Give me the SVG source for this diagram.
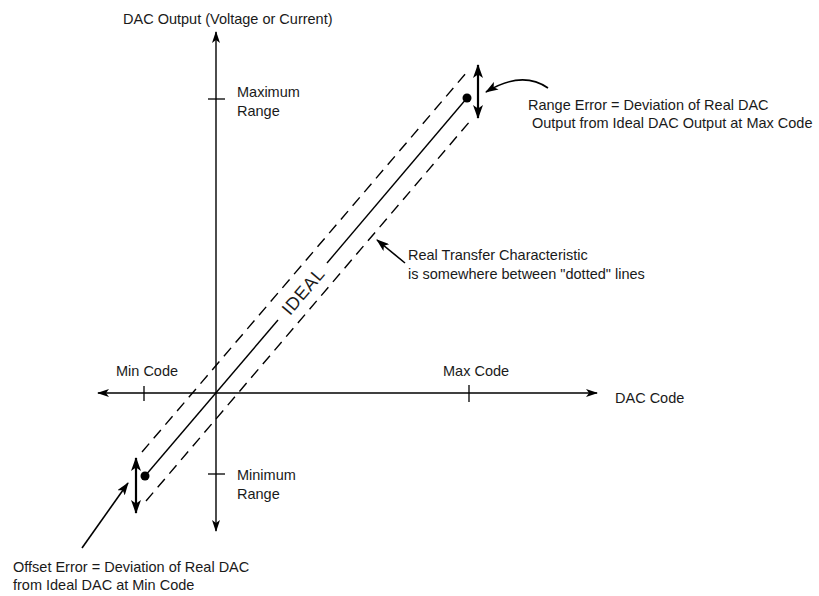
<svg xmlns="http://www.w3.org/2000/svg" width="819" height="596" viewBox="0 0 819 596">
  <style>
    text { font-family: "Liberation Sans", Arial, sans-serif; font-size: 14.5px; fill: #1a1a1a; }
    .ax { stroke: #000; stroke-width: 1.4; fill: none; }
    .tick { stroke: #000; stroke-width: 1.3; }
    .ideal { stroke: #000; stroke-width: 1.4; fill: none; }
    .dash { stroke: #000; stroke-width: 1.4; fill: none; stroke-dasharray: 11 7; }
    .dbl { stroke: #000; stroke-width: 2.2; fill: none; }
    .ptr { stroke: #000; stroke-width: 1.6; fill: none; }
  </style>
  <defs>
    <marker id="ah" viewBox="0 0 12 8" markerWidth="12" markerHeight="8" refX="11" refY="4" orient="auto-start-reverse" markerUnits="userSpaceOnUse">
      <path d="M0,0 L12,4 L0,8 L3,4 z" fill="#000"/>
    </marker>
    <marker id="ahb" viewBox="0 0 14 10" markerWidth="14" markerHeight="10" refX="13" refY="5" orient="auto-start-reverse" markerUnits="userSpaceOnUse">
      <path d="M0,0 L14,5 L0,10 L3.5,5 z" fill="#000"/>
    </marker>
    <marker id="ahp" viewBox="0 0 13 9" markerWidth="13" markerHeight="9" refX="12" refY="4.5" orient="auto" markerUnits="userSpaceOnUse">
      <path d="M0,0 L13,4.5 L0,9 L3,4.5 z" fill="#000"/>
    </marker>
  </defs>

  <g id="axes">
    <line class="ax" x1="216" y1="531" x2="216" y2="32" marker-start="url(#ah)" marker-end="url(#ah)"/>
    <line class="ax" x1="98" y1="393" x2="597" y2="393" marker-start="url(#ah)" marker-end="url(#ah)"/>
    <line class="tick" x1="208" y1="99" x2="225" y2="99"/>
    <line class="tick" x1="208" y1="474" x2="225" y2="474"/>
    <line class="tick" x1="144" y1="386" x2="144" y2="401"/>
    <line class="tick" x1="469" y1="385" x2="469" y2="402"/>
  </g>

  <g id="transfer-lines">
    <line class="ideal" x1="145" y1="476" x2="278" y2="320"/>
    <line class="ideal" x1="327" y1="263" x2="467" y2="98"/>
    <line class="dash" x1="142" y1="452" x2="467" y2="72"/>
    <line class="dash" x1="146" y1="501" x2="471" y2="120"/>
    <circle cx="467" cy="98" r="4.5" fill="#000"/>
    <circle cx="145" cy="476" r="4.5" fill="#000"/>
    <text transform="translate(303,291) rotate(-49.6)" x="0" y="6.5" text-anchor="middle" style="font-size:18px;letter-spacing:0.6px">IDEAL</text>
  </g>

  <g id="connectors">
    <line class="dbl" x1="478" y1="65" x2="478" y2="118" marker-start="url(#ahb)" marker-end="url(#ahb)"/>
    <line class="dbl" x1="136" y1="458" x2="136" y2="513" marker-start="url(#ahb)" marker-end="url(#ahb)"/>
    <path class="ptr" d="M548,88 Q522,70 486,92" marker-end="url(#ahp)"/>
    <line class="ptr" x1="82" y1="548" x2="128" y2="483" marker-end="url(#ahp)"/>
    <line class="ptr" x1="405" y1="263" x2="377" y2="240" marker-end="url(#ahp)"/>
  </g>

  <g id="label-y-axis"><text x="123" y="24">DAC Output (Voltage or Current)</text></g>
  <g id="label-x-axis"><text x="615" y="403">DAC Code</text></g>
  <g id="label-max-range"><text x="237" y="97">Maximum</text><text x="237" y="116">Range</text></g>
  <g id="label-min-range"><text x="237" y="480">Minimum</text><text x="237" y="499">Range</text></g>
  <g id="label-min-code"><text x="116" y="376">Min Code</text></g>
  <g id="label-max-code"><text x="443" y="376">Max Code</text></g>
  <g id="label-range-error">
    <text x="528" y="110">Range Error = Deviation of Real DAC</text>
    <text x="532" y="128">Output from Ideal DAC Output at Max Code</text>
  </g>
  <g id="label-real">
    <text x="408" y="260">Real Transfer Characteristic</text>
    <text x="408" y="279">is somewhere between "dotted" lines</text>
  </g>
  <g id="label-offset-error">
    <text x="13" y="572">Offset Error = Deviation of Real DAC</text>
    <text x="13" y="590">from Ideal DAC at Min Code</text>
  </g>
</svg>
